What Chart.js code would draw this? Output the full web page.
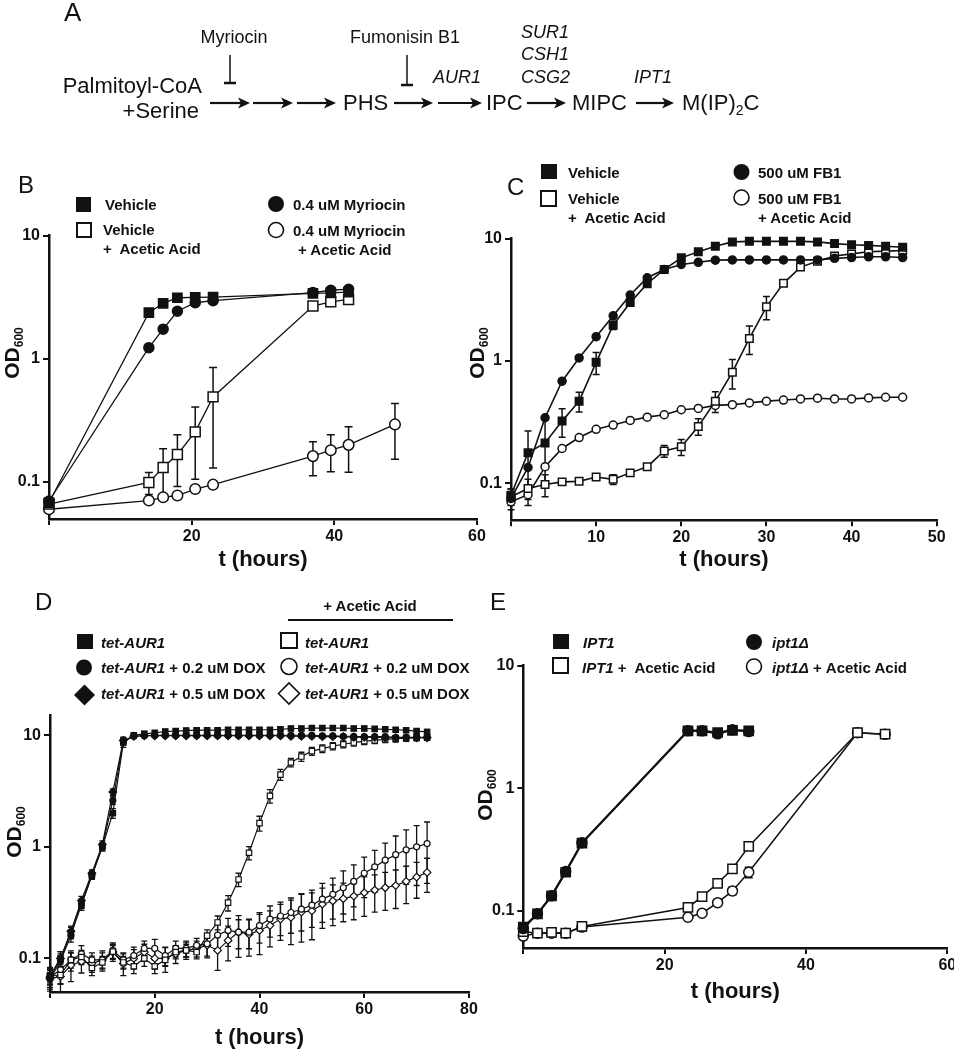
<!DOCTYPE html>
<html>
<head>
<meta charset="utf-8">
<script src="https://cdn.jsdelivr.net/npm/chart.js@4/dist/chart.umd.min.js"></script>
<style>
  html, body { margin: 0; padding: 0; background: #fff; overflow: hidden; }
  body { width: 954px; height: 1050px; position: relative; }
  canvas { position: absolute; }
  #overlay { position: absolute; left: 0; top: 0; pointer-events: none; }
  #overlay text { fill: #111; }
  .lg { font-size: 15px; font-weight: bold; }
  .path { font-size: 22px; }
  .gene { font-size: 18px; font-style: italic; }
  .panel { font-size: 24px; }
</style>
</head>
<body>
<canvas id="chartB" style="left:0;top:223px" width="500" height="352"></canvas>
<canvas id="chartC" style="left:462px;top:226px" width="492" height="349"></canvas>
<canvas id="chartD" style="left:0;top:703px" width="490" height="347"></canvas>
<canvas id="chartE" style="left:474px;top:653px" width="490" height="353"></canvas>

<svg id="overlay" width="954" height="1050" font-family="'Liberation Sans', Arial, sans-serif">
  <!-- panel A: pathway -->
  <text class="panel" x="64" y="21" style="font-size:26px">A</text>
  <text x="234" y="43" font-size="18" text-anchor="middle">Myriocin</text>
  <line x1="230" y1="55" x2="230" y2="83" stroke="#111" stroke-width="1.5"/>
  <line x1="224" y1="83" x2="236" y2="83" stroke="#111" stroke-width="2.5"/>
  <text x="405" y="43" font-size="18" text-anchor="middle">Fumonisin B1</text>
  <line x1="407" y1="55" x2="407" y2="85" stroke="#111" stroke-width="1.5"/>
  <line x1="401" y1="85" x2="413" y2="85" stroke="#111" stroke-width="2.5"/>
  <text class="path" x="202" y="93" text-anchor="end">Palmitoyl-CoA</text>
  <text class="path" x="199" y="118" text-anchor="end">+Serine</text>
  <text class="path" x="343" y="110">PHS</text>
  <text class="gene" x="433" y="83">AUR1</text>
  <text class="path" x="486" y="110">IPC</text>
  <text class="gene" x="521" y="38">SUR1</text>
  <text class="gene" x="521" y="60">CSH1</text>
  <text class="gene" x="521" y="83">CSG2</text>
  <text class="path" x="572" y="110">MIPC</text>
  <text class="gene" x="634" y="83">IPT1</text>
  <text class="path" x="682" y="110">M(IP)<tspan font-size="14" dy="5">2</tspan><tspan dy="-5">C</tspan></text>
  <g id="arrows" stroke="#111" fill="#111"></g>

  <!-- panel letters -->
  <text class="panel" x="18" y="193">B</text>
  <text class="panel" x="507" y="195">C</text>
  <text class="panel" x="35" y="610">D</text>
  <text class="panel" x="490" y="610">E</text>

  <!-- y axis titles -->
  <text transform="translate(19,353) rotate(-90)" text-anchor="middle" font-size="21" font-weight="bold">OD<tspan font-size="12" dy="4">600</tspan></text>
  <text transform="translate(484,353) rotate(-90)" text-anchor="middle" font-size="21" font-weight="bold">OD<tspan font-size="12" dy="4">600</tspan></text>
  <text transform="translate(21,832) rotate(-90)" text-anchor="middle" font-size="21" font-weight="bold">OD<tspan font-size="12" dy="4">600</tspan></text>
  <text transform="translate(492,795) rotate(-90)" text-anchor="middle" font-size="21" font-weight="bold">OD<tspan font-size="12" dy="4">600</tspan></text>

  <!-- legend B -->
  <rect x="76" y="197" width="15" height="15" fill="#111"/>
  <text class="lg" x="105" y="210">Vehicle</text>
  <rect x="77" y="223" width="14" height="14" fill="#fff" stroke="#111" stroke-width="2"/>
  <text class="lg" x="103" y="235">Vehicle</text>
  <text class="lg" x="103" y="254">+&#160; Acetic Acid</text>
  <circle cx="276" cy="204" r="8" fill="#111"/>
  <text class="lg" x="293" y="210">0.4 uM Myriocin</text>
  <circle cx="276" cy="230" r="7.5" fill="#fff" stroke="#111" stroke-width="1.6"/>
  <text class="lg" x="293" y="236">0.4 uM Myriocin</text>
  <text class="lg" x="298" y="255">+ Acetic Acid</text>

  <!-- legend C -->
  <rect x="541" y="164" width="16" height="15" fill="#111"/>
  <text class="lg" x="568" y="178">Vehicle</text>
  <rect x="541" y="191" width="15" height="15" fill="#fff" stroke="#111" stroke-width="2"/>
  <text class="lg" x="568" y="204">Vehicle</text>
  <text class="lg" x="568" y="223">+&#160; Acetic Acid</text>
  <circle cx="741.5" cy="172" r="8" fill="#111"/>
  <text class="lg" x="758" y="178">500 uM FB1</text>
  <circle cx="741.5" cy="197.5" r="7.5" fill="#fff" stroke="#111" stroke-width="1.6"/>
  <text class="lg" x="758" y="204">500 uM FB1</text>
  <text class="lg" x="758" y="223">+ Acetic Acid</text>

  <!-- legend D -->
  <text class="lg" x="370" y="611" text-anchor="middle">+ Acetic Acid</text>
  <line x1="288" y1="620" x2="453" y2="620" stroke="#111" stroke-width="2"/>
  <rect x="77" y="634" width="16" height="15" fill="#111"/>
  <text class="lg" x="101" y="648"><tspan font-style="italic">tet-AUR1</tspan></text>
  <circle cx="84" cy="667.5" r="8" fill="#111"/>
  <text class="lg" x="101" y="673"><tspan font-style="italic">tet-AUR1</tspan> + 0.2 uM DOX</text>
  <polygon points="74,695 84.5,684.5 95,695 84.5,705.5" fill="#111"/>
  <text class="lg" x="101" y="699"><tspan font-style="italic">tet-AUR1</tspan> + 0.5 uM DOX</text>
  <rect x="281" y="633" width="16" height="15" fill="#fff" stroke="#111" stroke-width="2"/>
  <text class="lg" x="305" y="648"><tspan font-style="italic">tet-AUR1</tspan></text>
  <circle cx="289" cy="666.5" r="8" fill="#fff" stroke="#111" stroke-width="1.6"/>
  <text class="lg" x="305" y="673"><tspan font-style="italic">tet-AUR1</tspan> + 0.2 uM DOX</text>
  <polygon points="278.5,693.5 289,683 299.5,693.5 289,704" fill="#fff" stroke="#111" stroke-width="1.6"/>
  <text class="lg" x="305" y="699"><tspan font-style="italic">tet-AUR1</tspan> + 0.5 uM DOX</text>

  <!-- legend E -->
  <rect x="553" y="634" width="16" height="15" fill="#111"/>
  <text class="lg" x="583" y="648"><tspan font-style="italic">IPT1</tspan></text>
  <rect x="553" y="658" width="15" height="15" fill="#fff" stroke="#111" stroke-width="2"/>
  <text class="lg" x="582" y="673"><tspan font-style="italic">IPT1</tspan> +&#160; Acetic Acid</text>
  <circle cx="754" cy="642" r="8" fill="#111"/>
  <text class="lg" x="772" y="648"><tspan font-style="italic">ipt1Δ</tspan></text>
  <circle cx="754" cy="666.5" r="7.5" fill="#fff" stroke="#111" stroke-width="1.6"/>
  <text class="lg" x="772" y="673"><tspan font-style="italic">ipt1Δ</tspan> + Acetic Acid</text>
</svg>

<script>
// ---------- panel B: myriocin ----------
const bTime = [0, 14, 16, 18, 20.5, 23, 37, 39.5, 42];
const bVehicle = [0.068, 2.37, 2.82, 3.13, 3.15, 3.17, 3.39, 3.43, 3.47];
const bMyriocin = [0.07, 1.23, 1.74, 2.43, 2.85, 2.96, 3.45, 3.6, 3.67];
const bVehicleAA = [0.066, 0.099, 0.131, 0.167, 0.255, 0.49, 2.68, 2.9, 3.03];
const bVehicleAASd = [0, 0.02, 0.055, 0.075, 0.15, 0.36, 0, 0, 0];
const bMyrAATime = [0, 14, 16, 18, 20.5, 23, 37, 39.5, 42, 48.5];
const bMyriocinAA = [0.06, 0.0706, 0.075, 0.0776, 0.0875, 0.095, 0.162, 0.181, 0.2, 0.293];
const bMyriocinAASd = [0, 0, 0, 0, 0, 0, 0.05, 0.06, 0.08, 0.14];

// ---------- panel C: fumonisin B1 ----------
const cTime = [0, 2, 4, 6, 8, 10, 12, 14, 16, 18, 20, 22, 24, 26, 28, 30, 32, 34, 36, 38, 40, 42, 44, 46];
const cVehicle = [0.08, 0.178, 0.214, 0.323, 0.47, 0.975, 1.96, 3.0, 4.28, 5.6, 6.96, 7.8, 8.66, 9.4, 9.5, 9.5, 9.5, 9.5, 9.4, 9.1, 8.9, 8.8, 8.66, 8.5];
const cVehicleSd = [0.01, 0.09, 0.12, 0.085, 0.086, 0.2, 0.15, 0.1, 0.05, 0, 0, 0, 0, 0, 0, 0, 0, 0, 0, 0, 0, 0, 0, 0];
const cFB1 = [0.0755, 0.135, 0.344, 0.684, 1.06, 1.58, 2.34, 3.46, 4.79, 5.6, 6.15, 6.4, 6.67, 6.7, 6.7, 6.7, 6.7, 6.7, 6.7, 6.9, 7.0, 7.1, 7.1, 7.0];
const cVehicleAA = [0.078, 0.091, 0.098, 0.103, 0.104, 0.113, 0.108, 0.122, 0.137, 0.184, 0.199, 0.292, 0.47, 0.81, 1.53, 2.77, 4.31, 5.85, 6.54, 7.2, 7.5, 7.8, 7.9, 8.0];
const cVehicleAASd = [0.012, 0.017, 0.02, 0, 0, 0, 0.01, 0, 0, 0.02, 0.03, 0.045, 0.09, 0.22, 0.4, 0.6, 0.2, 0, 0, 0, 0, 0, 0, 0];
const cFB1AA = [0.071, 0.081, 0.137, 0.193, 0.237, 0.277, 0.3, 0.327, 0.348, 0.364, 0.4, 0.41, 0.434, 0.44, 0.455, 0.47, 0.48, 0.49, 0.497, 0.49, 0.49, 0.5, 0.506, 0.506];
const cFB1AASd = [0.01, 0.015, 0, 0, 0, 0, 0, 0, 0, 0, 0, 0, 0, 0, 0, 0, 0, 0, 0, 0, 0, 0, 0, 0];

// ---------- panel D: tet-AUR1 ----------
const dTime = [0, 2, 4, 6, 8, 10, 12, 14, 16, 18, 20, 22, 24, 26, 28, 30, 32, 34, 36, 38, 40, 42, 44, 46, 48, 50, 52, 54, 56, 58, 60, 62, 64, 66, 68, 70, 72];
const dTet = [0.07, 0.1, 0.17, 0.3, 0.55, 1.0, 2.0, 8.6, 10.0, 10.3, 10.5, 10.8, 10.9, 11.0, 11.1, 11.1, 11.1, 11.2, 11.2, 11.2, 11.2, 11.2, 11.3, 11.5, 11.5, 11.6, 11.6, 11.6, 11.6, 11.5, 11.5, 11.4, 11.3, 11.2, 11.1, 10.9, 10.7];
const dTetSd = [0.01, 0.015, 0.02, 0.03, 0.04, 0.08, 0.2, 0.8, 0.5, 0.5, 0.5, 0.5, 0.5, 0.5, 0.5, 0.5, 0.5, 0.5, 0.5, 0.5, 0.5, 0.5, 0.5, 0.5, 0.5, 0.5, 0.5, 0.5, 0.5, 0.5, 0.5, 0.5, 0.5, 0.5, 0.5, 0.5, 0.6];
const dDox02 = [0.065, 0.095, 0.16, 0.31, 0.56, 1.0, 2.6, 8.8, 9.8, 9.9, 10, 10, 10, 10, 10, 10, 10, 10, 10, 10, 10, 10, 10, 10, 10, 10, 9.9, 9.9, 9.8, 9.8, 9.7, 9.7, 9.7, 9.6, 9.6, 9.6, 9.6];
const dDox02Sd = [0.01, 0.015, 0.02, 0.03, 0.04, 0.08, 0.2, 0.6, 0.3, 0.3, 0.3, 0.3, 0.3, 0.3, 0.3, 0.3, 0.3, 0.3, 0.3, 0.3, 0.3, 0.3, 0.3, 0.3, 0.3, 0.3, 0.3, 0.3, 0.3, 0.3, 0.3, 0.3, 0.3, 0.3, 0.3, 0.4, 0.5];
const dDox05 = [0.068, 0.1, 0.175, 0.33, 0.58, 1.05, 3.1, 9.0, 9.8, 9.9, 9.9, 9.9, 9.9, 9.9, 9.9, 9.9, 9.9, 9.9, 9.9, 9.9, 9.9, 9.9, 9.9, 9.8, 9.8, 9.8, 9.7, 9.7, 9.7, 9.6, 9.6, 9.6, 9.5, 9.5, 9.5, 9.5, 9.5];
const dDox05Sd = [0.01, 0.015, 0.02, 0.03, 0.04, 0.08, 0.2, 0.6, 0.3, 0.3, 0.3, 0.3, 0.3, 0.3, 0.3, 0.3, 0.3, 0.3, 0.3, 0.3, 0.3, 0.3, 0.3, 0.3, 0.3, 0.3, 0.3, 0.3, 0.3, 0.3, 0.3, 0.3, 0.3, 0.3, 0.3, 0.4, 0.5];
const dTetAA = [0.07, 0.071, 0.097, 0.103, 0.082, 0.092, 0.115, 0.092, 0.085, 0.1, 0.085, 0.097, 0.114, 0.118, 0.114, 0.16, 0.21, 0.316, 0.51, 0.885, 1.63, 2.86, 4.44, 5.7, 6.44, 7.2, 7.6, 8.0, 8.3, 8.6, 8.85, 9.0, 9.2, 9.3, 9.4, 9.5, 9.6];
const dTetAASd = [0.012, 0.012, 0.015, 0.015, 0.012, 0.012, 0.015, 0.012, 0.012, 0.015, 0.012, 0.012, 0.015, 0.015, 0.015, 0.02, 0.03, 0.05, 0.07, 0.12, 0.25, 0.4, 0.5, 0.5, 0.6, 0.6, 0.6, 0.6, 0.6, 0.6, 0.6, 0.6, 0.6, 0.6, 0.6, 0.6, 0.6];
const dDox02AA = [0.068, 0.079, 0.097, 0.11, 0.097, 0.097, 0.118, 0.097, 0.106, 0.123, 0.123, 0.106, 0.123, 0.123, 0.131, 0.135, 0.162, 0.178, 0.172, 0.172, 0.197, 0.225, 0.24, 0.258, 0.276, 0.3, 0.34, 0.375, 0.43, 0.49, 0.58, 0.66, 0.76, 0.85, 0.94, 1.0, 1.07];
const dDox02AASd = [0.015, 0.02, 0.02, 0.02, 0.015, 0.015, 0.02, 0.015, 0.02, 0.02, 0.025, 0.02, 0.02, 0.02, 0.02, 0.03, 0.04, 0.05, 0.05, 0.05, 0.06, 0.07, 0.08, 0.09, 0.1, 0.11, 0.13, 0.15, 0.18, 0.2, 0.23, 0.27, 0.32, 0.4, 0.48, 0.55, 0.6];
const dDox05AA = [0.066, 0.069, 0.087, 0.094, 0.09, 0.097, 0.114, 0.09, 0.1, 0.114, 0.1, 0.1, 0.11, 0.118, 0.123, 0.131, 0.118, 0.145, 0.172, 0.165, 0.178, 0.197, 0.225, 0.233, 0.26, 0.267, 0.306, 0.327, 0.343, 0.362, 0.388, 0.41, 0.43, 0.45, 0.49, 0.536, 0.59];
const dDox05AASd = [0.015, 0.02, 0.025, 0.02, 0.015, 0.02, 0.02, 0.02, 0.02, 0.02, 0.02, 0.025, 0.02, 0.02, 0.02, 0.03, 0.04, 0.05, 0.07, 0.06, 0.07, 0.07, 0.08, 0.1, 0.12, 0.12, 0.12, 0.13, 0.13, 0.14, 0.15, 0.15, 0.16, 0.17, 0.18, 0.19, 0.2];

// ---------- panel E: IPT1 ----------
const eTime = [0, 2, 4, 6, 8.3, 23.3, 25.3, 27.5, 29.6, 31.9];
const eIPT1 = [0.074, 0.095, 0.133, 0.207, 0.358, 2.94, 2.94, 2.85, 2.97, 2.94];
const eIpt1 = [0.072, 0.095, 0.133, 0.21, 0.36, 2.94, 2.94, 2.78, 3.0, 2.9];
const eAATime = [0, 2, 4, 6, 8.3, 23.3, 25.3, 27.5, 29.6, 31.9, 47.3, 51.2];
const eIPT1AA = [0.068, 0.066, 0.067, 0.066, 0.075, 0.107, 0.131, 0.168, 0.221, 0.336, 2.84, 2.76];
const eIpt1AA = [0.0625, 0.066, 0.066, 0.066, 0.074, 0.089, 0.096, 0.117, 0.146, 0.207, 2.84, 2.76];
const eIpt1AASd = [0, 0, 0, 0, 0, 0, 0, 0, 0.01, 0.02, 0, 0];

// pathway arrows for panel A (start, end) at y = 103
const arrowSpans = [[210, 250], [253, 293], [297, 336], [394, 433], [438, 482], [527, 566], [636, 674]];

const FONT = "'Liberation Sans', Arial, sans-serif";

const g = document.getElementById('arrows');
arrowSpans.forEach(([a, b]) => {
  const y = 103;
  g.insertAdjacentHTML('beforeend',
    `<line x1="${a}" y1="${y}" x2="${b - 8}" y2="${y}" stroke-width="2.2"/>` +
    `<polygon points="${b},${y} ${b - 12},${y - 5.5} ${b - 9},${y} ${b - 12},${y + 5.5}" stroke="none"/>`);
});

function pts(times, vals) {
  return vals.map((v, i) => ({ x: times[i], y: v }));
}

function series(times, vals, sd, style) {
  return Object.assign({
    data: pts(times, vals),
    sd: sd,
    borderColor: '#111',
    borderWidth: 1.3,
    pointBorderColor: '#111',
    pointBorderWidth: 1.5,
    pointBackgroundColor: '#111',
    tension: 0,
    fill: false,
    clip: false
  }, style);
}

// draws the error bars under the points, through the chart's own scales
const errorBars = {
  id: 'errorBars',
  beforeDatasetsDraw(chart) {
    const { ctx, chartArea, scales: { x, y } } = chart;
    ctx.save();
    ctx.strokeStyle = '#111';
    chart.data.datasets.forEach(ds => {
      if (!ds.sd) return;
      ctx.lineWidth = ds.barWidth || 1.5;
      const cap = ds.capWidth || 4;
      ds.data.forEach((p, i) => {
        const sd = ds.sd[i];
        if (!sd) return;
        const px = x.getPixelForValue(p.x);
        const top = y.getPixelForValue(p.y + sd);
        const low = p.y - sd;
        const bot = low > y.min ? y.getPixelForValue(low) : chartArea.bottom;
        ctx.beginPath();
        ctx.moveTo(px, top); ctx.lineTo(px, bot);
        ctx.moveTo(px - cap, top); ctx.lineTo(px + cap, top);
        if (low > y.min) { ctx.moveTo(px - cap, bot); ctx.lineTo(px + cap, bot); }
        ctx.stroke();
      });
    });
    ctx.restore();
  }
};

const tickFont = { family: FONT, size: 16, weight: 'bold' };
const gridOpts = { drawOnChartArea: false, drawTicks: true, tickLength: 6, color: '#111', lineWidth: 2 };
const borderOpts = { display: true, color: '#111', width: 2.5 };

function makeChart(id, datasets, o) {
  return new Chart(document.getElementById(id), {
    type: 'line',
    data: { datasets },
    plugins: [errorBars],
    options: {
      responsive: false,
      animation: false,
      devicePixelRatio: 1,
      events: [],
      layout: { padding: { left: 0, top: o.padTop, right: o.padRight, bottom: 0 } },
      plugins: { legend: { display: false }, tooltip: { enabled: false } },
      scales: {
        x: {
          type: 'linear', min: 0, max: o.xMax,
          ticks: { stepSize: o.xStep, font: tickFont, color: '#111', padding: 2, maxRotation: 0,
                   callback: v => (v === 0 ? '' : v) },
          grid: gridOpts, border: borderOpts,
          title: { display: true, text: 't (hours)', color: '#111',
                   font: { family: FONT, size: 22, weight: 'bold', lineHeight: 1 },
                   padding: { top: 0, bottom: o.titlePad } },
          afterFit: s => { s.height = o.xHeight; }
        },
        y: {
          type: 'logarithmic', min: 0.05, max: o.yMax,
          afterBuildTicks: s => { s.ticks = [0.1, 1, 10].map(v => ({ value: v })); },
          ticks: { font: tickFont, color: '#111', padding: 3, callback: v => String(v) },
          grid: gridOpts, border: borderOpts,
          afterFit: s => { s.width = o.yWidth; }
        }
      }
    }
  });
}

const sq = (r, open) => ({ pointStyle: 'rect', pointRadius: r, pointBackgroundColor: open ? '#fff' : '#111' });
const ci = (r, open) => ({ pointStyle: 'circle', pointRadius: r, pointBackgroundColor: open ? '#fff' : '#111' });
const di = (r, open) => ({ pointStyle: 'rectRot', pointRadius: r, pointBackgroundColor: open ? '#fff' : '#111' });

makeChart('chartB', [
  series(bTime, bVehicle, null, sq(6.5, false)),
  series(bTime, bMyriocin, null, ci(5, false)),
  series(bTime, bVehicleAA, bVehicleAASd, sq(7, true)),
  series(bMyrAATime, bMyriocinAA, bMyriocinAASd, ci(5.3, true))
], { xMax: 60, xStep: 20, yMax: 10, padTop: 10, padRight: 23, xHeight: 56, yWidth: 49, titlePad: 4 });

makeChart('chartC', [
  series(cTime, cVehicle, cVehicleSd, Object.assign(sq(5.3, false), { borderWidth: 1.6, capWidth: 3.5 })),
  series(cTime, cFB1, null, Object.assign(ci(4, false), { borderWidth: 1.6 })),
  series(cTime, cVehicleAA, cVehicleAASd, Object.assign(sq(5.3, true), { borderWidth: 1.6, capWidth: 3.5 })),
  series(cTime, cFB1AA, cFB1AASd, Object.assign(ci(4, true), { borderWidth: 1.6, capWidth: 3.5 }))
], { xMax: 50, xStep: 10, yMax: 10, padTop: 9.7, padRight: 17.3, xHeight: 54.7, yWidth: 49, titlePad: 4 });

const dStyle = { borderWidth: 1.2, pointBorderWidth: 1.2, capWidth: 3, barWidth: 1.3 };
makeChart('chartD', [
  series(dTime, dTet, dTetSd, Object.assign(sq(3.8, false), dStyle)),
  series(dTime, dDox02, dDox02Sd, Object.assign(ci(3, false), dStyle)),
  series(dTime, dDox05, dDox05Sd, Object.assign(di(3.8, false), dStyle)),
  series(dTime, dTetAA, dTetAASd, Object.assign(sq(3.8, true), dStyle)),
  series(dTime, dDox02AA, dDox02AASd, Object.assign(ci(3, true), dStyle)),
  series(dTime, dDox05AA, dDox05AASd, Object.assign(di(3.8, true), dStyle))
], { xMax: 80, xStep: 20, yMax: 15, padTop: 10, padRight: 21, xHeight: 58, yWidth: 50, titlePad: 1.3 });

makeChart('chartE', [
  series(eTime, eIPT1, null, Object.assign(sq(6.5, false), { borderWidth: 2 })),
  series(eTime, eIpt1, null, Object.assign(ci(5, false), { borderWidth: 2 })),
  series(eAATime, eIPT1AA, null, Object.assign(sq(6.5, true), { borderWidth: 1.5 })),
  series(eAATime, eIpt1AA, eIpt1AASd, Object.assign(ci(5, true), { borderWidth: 1.5 }))
], { xMax: 60, xStep: 20, yMax: 10, padTop: 10, padRight: 16.7, xHeight: 58, yWidth: 49.3, titlePad: 3.3 });
</script>
</body>
</html>
